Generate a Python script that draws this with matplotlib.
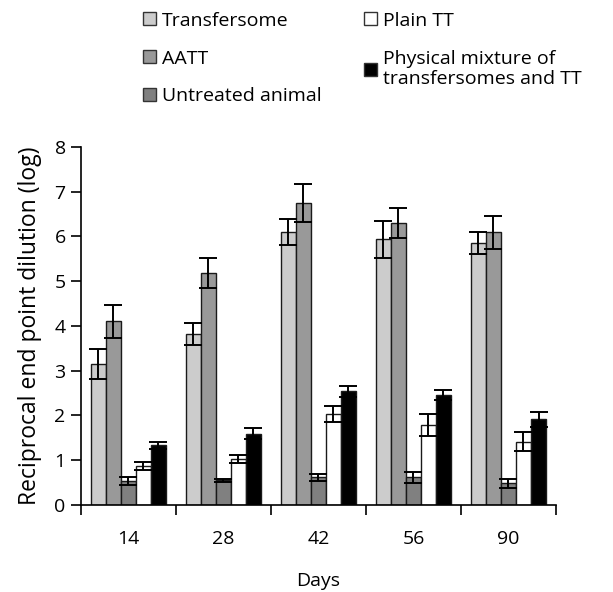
from matplotlib import pyplot as plt
from matplotlib.patches import Patch
import numpy as np

plt.rcParams['font.family'] = ['Open Sans', 'DejaVu Sans']

days = ['14', '28', '42', '56', '90']
labels = ['Transfersome', 'AATT', 'Untreated animal', 'Plain TT',
          'Physical mixture of\ntransfersomes and TT']
colors = ['#cccccc', '#999999', '#808080', '#ffffff', '#000000']

transfersome = [3.15, 3.82, 6.09, 5.93, 5.85]
transfersome_err = [0.33, 0.25, 0.29, 0.41, 0.25]
aatt = [4.10, 5.18, 6.75, 6.30, 6.09]
aatt_err = [0.37, 0.33, 0.42, 0.33, 0.37]
untreated = [0.54, 0.55, 0.62, 0.62, 0.48]
untreated_err = [0.09, 0.03, 0.08, 0.12, 0.09]
plain_tt = [0.87, 1.03, 2.03, 1.79, 1.41]
plain_tt_err = [0.09, 0.09, 0.17, 0.24, 0.21]
mixture = [1.33, 1.59, 2.54, 2.46, 1.91]
mixture_err = [0.08, 0.12, 0.12, 0.11, 0.17]

series = [transfersome, aatt, untreated, plain_tt, mixture]
errors = [transfersome_err, aatt_err, untreated_err, plain_tt_err, mixture_err]

fig = plt.figure(figsize=(6.13, 5.92), dpi=100)
ax = fig.add_axes([0.132, 0.147, 0.775, 0.605])

x = np.arange(len(days))
w = 0.158
for i, (vals, err) in enumerate(zip(series, errors)):
    ax.bar(x + (i - 2) * w, vals, w, color=colors[i], edgecolor='#1a1a1a',
           linewidth=1.0, yerr=err, capsize=6.5,
           error_kw=dict(ecolor='black', elinewidth=1.4, capthick=1.4))

ax.set_xlim(-0.5, 4.5)
ax.set_ylim(0, 8)
ax.set_yticks(range(0, 9))
ax.set_xticks(x)
ax.set_xticklabels(days)
ax.set_xticks(np.arange(-0.5, 5, 1), minor=True)
ax.tick_params(axis='x', which='major', length=0, pad=18, labelsize=14)
ax.tick_params(axis='x', which='minor', length=7, width=1.2)
ax.tick_params(axis='y', length=7, width=1.2, labelsize=14, pad=4)
ax.spines['top'].set_visible(False)
ax.spines['right'].set_visible(False)
ax.spines['left'].set_linewidth(1.2)
ax.spines['bottom'].set_linewidth(1.2)
ax.set_xlabel('Days', fontsize=14, labelpad=17)
ax.set_ylabel('Reciprocal end point dilution (log)', fontsize=16.5, labelpad=9)

handles = [Patch(facecolor=c, edgecolor='#333333', linewidth=1.0) for c in colors]
fig.legend(handles, labels, ncol=2, loc='upper left', bbox_to_anchor=(0.215, 1.0),
           frameon=False, fontsize=14, handlelength=0.65, handleheight=0.65,
           handletextpad=0.3, labelspacing=1.02, columnspacing=2.2,
           borderaxespad=0.2)

plt.savefig('out.png', dpi=100)
